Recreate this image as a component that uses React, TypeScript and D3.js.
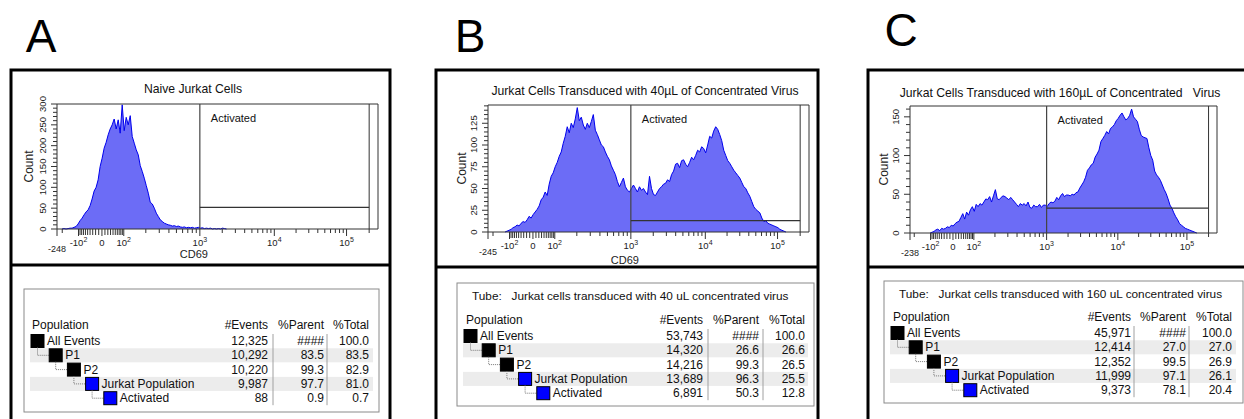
import React from 'react';
import * as d3 from 'd3';

// ---------- DATA ----------
const CHANNELS = 160;
const AXIS_MAX = 262144;

const firstChannelA = 3;
const countsA = [
  1, 0, 1, 2, 2, 4, 6, 12, 20, 26,
  34, 41, 46, 56, 72, 91, 100, 118, 150, 170,
  194, 208, 226, 240, 250, 264, 240, 262, 230, 298,
  236, 268, 250, 272, 222, 206, 190, 178, 152, 138,
  122, 104, 86, 64, 60, 50, 38, 30, 22, 18,
  14, 12, 10, 9, 7, 8, 6, 7, 5, 4,
  5, 3, 4, 3, 4, 2, 3, 4, 2, 3,
  1, 2, 1, 2, 0, 1, 0, 1, 0, 2,
  1,
];

const firstChannelB = 9;
const countsB = [
  1, 2, 3, 5, 6, 8, 7, 10, 12, 11,
  14, 18, 16, 20, 23, 26, 30, 37, 40, 46,
  42, 55, 64, 68, 75, 80, 87, 92, 102, 110,
  121, 114, 125, 120, 130, 143, 128, 132, 123, 118,
  125, 120, 127, 135, 117, 112, 106, 100, 98, 92,
  87, 83, 76, 71, 66, 58, 52, 57, 62, 52,
  48, 46, 50, 54, 50, 46, 52, 48, 50, 46,
  43, 64, 50, 43, 42, 46, 50, 52, 55, 56,
  60, 58, 66, 70, 78, 79, 74, 82, 83, 78,
  75, 80, 86, 83, 88, 94, 92, 98, 96, 91,
  100, 110, 108, 116, 121, 118, 112, 105, 94, 88,
  82, 79, 75, 71, 68, 65, 62, 57, 52, 50,
  45, 41, 35, 29, 26, 24, 22, 16, 12, 13,
  10, 9, 8, 7, 6, 5, 3, 2, 1,
];

const firstChannelC = 11;
const countsC = [
  1, 2, 4, 5, 3, 6, 5, 6, 8, 7,
  10, 9, 12, 14, 15, 20, 25, 18, 27, 23,
  30, 34, 28, 37, 34, 38, 36, 40, 44, 43,
  47, 40, 48, 56, 44, 43, 46, 48, 47, 45,
  43, 46, 43, 40, 37, 34, 38, 36, 38, 35,
  40, 33, 32, 36, 34, 34, 37, 33, 36, 36,
  34, 38, 40, 39, 41, 46, 43, 48, 51, 47,
  49, 49, 48, 50, 49, 52, 53, 58, 62, 66,
  72, 81, 84, 88, 90, 98, 102, 107, 118, 122,
  126, 131, 128, 135, 137, 140, 145, 148, 152, 155,
  150, 146, 148, 152, 160, 150, 147, 144, 134, 126,
  124, 123, 122, 110, 100, 94, 80, 75, 72, 68,
  62, 56, 51, 44, 36, 32, 26, 21, 17, 12,
  10, 8, 6, 5, 4, 3, 2, 1,
];

const titles = [
  'Naive Jurkat Cells',
  'Jurkat Cells Transduced with 40\u00B5L of Concentrated Virus',
  'Jurkat Cells Transduced with 160\u00B5L of Concentrated   Virus',
];
const panelLetters = ['A', 'B', 'C'];
const axisMins = [-248, -245, -238];
const yMaxes = [300, 146, 164];
const yMajorStep = [50, 25, 50];
const yMinorStep = [10, 5, 10];
const gateLow = 1000;
const gateHigh = 200000;
const gateHeights = [52, 13, 32];

const xMajorTicks = [-100, 0, 100, 1000, 10000, 100000];
const xMajorBase = ['-10', '0', '10', '10', '10', '10'];
const xMajorExp = ['2', '', '2', '3', '4', '5'];
const xCombTicks = [-90, -80, -70, -60, -50, -40, -30, -20, -10, 10, 20, 30, 40, 50, 60, 70, 80, 90];
const xMinorTicks = [
  -200, 200, 300, 400, 500, 600, 700, 800, 900,
  2000, 3000, 4000, 5000, 6000, 7000, 8000, 9000,
  20000, 30000, 40000, 50000, 60000, 70000, 80000, 90000, 200000,
];

const populations = ['All Events', 'P1', 'P2', 'Jurkat Population', 'Activated'];
const popLevels = [0, 1, 2, 3, 4];
const popColors = ['#000000', '#000000', '#000000', '#0000ff', '#0000ff'];
const eventsA = [12325, 10292, 10220, 9987, 88];
const parentA = [null, 83.5, 99.3, 97.7, 0.9];
const totalA = [100.0, 83.5, 82.9, 81.0, 0.7];
const eventsB = [53743, 14320, 14216, 13689, 6891];
const parentB = [null, 26.6, 99.3, 96.3, 50.3];
const totalB = [100.0, 26.6, 26.5, 25.5, 12.8];
const eventsC = [45971, 12414, 12352, 11999, 9373];
const parentC = [null, 27.0, 99.5, 97.1, 78.1];
const totalC = [100.0, 27.0, 26.9, 26.1, 20.4];
const tubeTexts = [
  '',
  'Tube:   Jurkat cells transduced with 40 uL concentrated virus',
  'Tube:   Jurkat cells transduced with 160 uL concentrated virus',
];

// ---------- LAYOUT ----------
const FONT = '"Liberation Sans", Arial, sans-serif';

const panels = [
  { frameX: 11, frameR: 390, divY: 265, letterX: 41, letterY: 52,
    left: 57, right: 378, top: 104, bottom: 229, titleX: 193, titleY: 93,
    cd69Y: 258, countX: 33, showCD69: true,
    counts: countsA, first: firstChannelA },
  { frameX: 436, frameR: 818, divY: 267, letterX: 470, letterY: 52,
    left: 488, right: 809, top: 105, bottom: 232, titleX: 645, titleY: 95,
    cd69Y: 264, countX: 466, showCD69: true,
    counts: countsB, first: firstChannelB },
  { frameX: 868, frameR: 1260, divY: 267, letterX: 901, letterY: 46,
    left: 910, right: 1217, top: 106, bottom: 233, titleX: 1060, titleY: 97,
    cd69Y: 0, countX: 888, showCD69: false,
    counts: countsC, first: firstChannelC },
];

const tables = [
  { x: 24, y: 289, r: 379, b: 412, headerY: 325, popX: 32, sqX: 31,
    colR: [268, 324, 369], seps: [273, 327], rowL: 30, rowR: 373,
    events: eventsA, parent: parentA, total: totalA },
  { x: 457, y: 283, r: 814, b: 406, headerY: 320, popX: 466, sqX: 464,
    colR: [703, 759, 805], seps: [708, 763], rowL: 463, rowR: 808,
    events: eventsB, parent: parentB, total: totalB },
  { x: 884, y: 281, r: 1243, b: 403, headerY: 317, popX: 893, sqX: 891,
    colR: [1131, 1186, 1232], seps: [1134, 1189], rowL: 890, rowR: 1236,
    events: eventsC, parent: parentC, total: totalC },
];

const anchorFractions = [0, 0.067, 0.14, 0.208, 0.445, 0.677, 0.902, 1];
const T = (v: number) => Math.asinh(v / 50);

function HistPanel({ p, i }: { p: any; i: number }) {
  const { left, right, top, bottom } = p;
  const anchorValues = [axisMins[i], -100, 0, 100, 1000, 10000, 100000, AXIS_MAX];
  const tScale = d3.scaleLinear()
    .domain(anchorValues.map(T))
    .range(anchorFractions.map((f) => left + f * (right - left)));
  const xv = (v: number) => tScale(T(v));
  const ch = d3.scaleLinear().domain([0, CHANNELS]).range([left, right]);
  const y = d3.scaleLinear().domain([0, yMaxes[i]]).range([bottom, top]);

  const pts: [number, number][] = [];
  pts.push([ch(p.first - 0.5), y(0)]);
  p.counts.forEach((c: number, k: number) => pts.push([ch(p.first + k + 0.5), y(c)]));
  pts.push([ch(p.first + p.counts.length + 0.5), y(0)]);
  const area = d3.area<[number, number]>().x((d) => d[0]).y0(bottom).y1((d) => d[1])(pts) || '';
  const line = d3.line<[number, number]>().x((d) => d[0]).y((d) => d[1])(pts) || '';

  const yMaj = d3.range(0, yMaxes[i] + 0.1, yMajorStep[i]);
  const yMin = d3.range(0, yMaxes[i] + 0.1, yMinorStep[i]).filter((v) => v % yMajorStep[i] !== 0);

  const gx1 = xv(gateLow);
  const gx2 = xv(gateHigh);
  const gy = y(gateHeights[i]);

  return (
    <g fontFamily={FONT}>
      <text x={p.letterX} y={p.letterY} fontSize={46} textAnchor="middle" fill="#000">{panelLetters[i]}</text>
      <rect x={p.frameX} y={70} width={p.frameR - p.frameX} height={400} fill="none" stroke="#000" strokeWidth={3} />
      <line x1={p.frameX} x2={p.frameR} y1={p.divY} y2={p.divY} stroke="#000" strokeWidth={3} />
      <text x={p.titleX} y={p.titleY} fontSize={12.2} textAnchor="middle" fill="#111" style={{ whiteSpace: 'pre' }}>{titles[i]}</text>

      <path d={area} fill="#6c6cf6" />
      <path d={line} fill="none" stroke="#0000ee" strokeWidth={1} />

      {/* frame */}
      <line x1={left} x2={right} y1={top} y2={top} stroke="#333" strokeWidth={1} />
      <line x1={right} x2={right} y1={top} y2={bottom} stroke="#333" strokeWidth={1} />
      <line x1={left} x2={left} y1={top} y2={bottom} stroke="#333" strokeWidth={1} />
      <line x1={left} x2={right} y1={bottom} y2={bottom} stroke="#333" strokeWidth={1} />

      {/* gate */}
      <line x1={gx1} x2={gx1} y1={top} y2={bottom} stroke="#444" strokeWidth={1.2} />
      <line x1={gx2} x2={gx2} y1={top} y2={bottom} stroke="#333" strokeWidth={1} />
      <line x1={gx1} x2={gx2} y1={gy} y2={gy} stroke="#333" strokeWidth={1.2} />
      <text x={gx1 + 11} y={top + 18} fontSize={11} fill="#111">Activated</text>

      {/* y axis */}
      {yMaj.map((v) => (
        <g key={'ym' + v}>
          <line x1={left - 6} x2={left} y1={y(v)} y2={y(v)} stroke="#333" />
          <text transform={`translate(${left - 11},${y(v)}) rotate(-90)`} fontSize={9.5} textAnchor="middle" fill="#222">{v}</text>
        </g>
      ))}
      {yMin.map((v) => (
        <line key={'yn' + v} x1={left - 4} x2={left} y1={y(v)} y2={y(v)} stroke="#333" />
      ))}
      <text transform={`translate(${p.countX},${(top + bottom) / 2}) rotate(-90)`} fontSize={12} textAnchor="middle" fill="#222">Count</text>

      {/* x axis */}
      <line x1={xv(axisMins[i])} x2={xv(axisMins[i])} y1={bottom} y2={bottom + 7} stroke="#333" />
      {xMajorTicks.map((v) => (
        <line key={'xm' + v} x1={xv(v)} x2={xv(v)} y1={bottom} y2={bottom + 7} stroke="#333" />
      ))}
      {xCombTicks.map((v) => (
        <line key={'xc' + v} x1={xv(v)} x2={xv(v)} y1={bottom} y2={bottom + 6} stroke="#333" />
      ))}
      {xMinorTicks.map((v) => (
        <line key={'xn' + v} x1={xv(v)} x2={xv(v)} y1={bottom} y2={bottom + 4} stroke="#333" />
      ))}
      {xMajorTicks.map((v, k) => (
        <text key={'xl' + v} x={xv(v)} y={bottom + 17} fontSize={9.5} textAnchor="middle" fill="#222">
          {xMajorBase[k]}
          {xMajorExp[k] ? <tspan fontSize={7} dy={-4}>{xMajorExp[k]}</tspan> : null}
        </text>
      ))}
      <text x={xv(axisMins[i])} y={bottom + 23} fontSize={9} textAnchor="middle" fill="#222">{axisMins[i]}</text>
      {p.showCD69 ? (
        <text x={xv(1000) - 6} y={p.cd69Y} fontSize={11} textAnchor="middle" fill="#222">CD69</text>
      ) : null}
    </g>
  );
}

function StatsTable({ t, i }: { t: any; i: number }) {
  const fmtN = d3.format(',');
  const fmtP = d3.format('.1f');
  const rowY = (k: number) => t.headerY + 16 + k * 14.3;
  const sq = 13;
  const indent = 18.2;
  const sqLeft = (k: number) => t.sqX + popLevels[k] * indent;
  return (
    <g fontFamily={FONT} fontSize={12} fill="#111">
      <rect x={t.x} y={t.y} width={t.r - t.x} height={t.b - t.y} fill="#fff" stroke="#8a8a8a" strokeWidth={1} />
      {tubeTexts[i] ? (
        <text x={t.popX + 6} y={t.y + 17} fontSize={11.8} style={{ whiteSpace: 'pre' }}>{tubeTexts[i]}</text>
      ) : null}
      {populations.map((_, k) => (k % 2 === 1 ? (
        <rect key={'bg' + k} x={t.rowL} y={rowY(k) - 7} width={t.rowR - t.rowL} height={14} fill="#ececec" />
      ) : null))}
      <text x={t.popX} y={t.headerY + 4}>Population</text>
      <text x={t.colR[0]} y={t.headerY + 4} textAnchor="end">#Events</text>
      <text x={t.colR[1]} y={t.headerY + 4} textAnchor="end">%Parent</text>
      <text x={t.colR[2]} y={t.headerY + 4} textAnchor="end">%Total</text>
      {t.seps.map((sx: number) => (
        <line key={'s' + sx} x1={sx} x2={sx} y1={rowY(0) - 7} y2={rowY(4) + 7} stroke="#a0a0a0" />
      ))}
      {populations.map((name, k) => (
        <g key={name}>
          {k > 0 ? (
            <path
              d={`M${sqLeft(k - 1) + sq / 2},${rowY(k - 1) + sq / 2} V${rowY(k)} H${sqLeft(k)}`}
              fill="none" stroke="#777" strokeWidth={1} strokeDasharray="1,1"
            />
          ) : null}
          <rect x={sqLeft(k)} y={rowY(k) - sq / 2} width={sq} height={sq} fill={popColors[k]} stroke="#000" strokeWidth={1} />
          <text x={sqLeft(k) + sq + 3} y={rowY(k) + 4}>{name}</text>
          <text x={t.colR[0]} y={rowY(k) + 4} textAnchor="end">{fmtN(t.events[k])}</text>
          <text x={t.colR[1]} y={rowY(k) + 4} textAnchor="end">{t.parent[k] === null ? '####' : fmtP(t.parent[k])}</text>
          <text x={t.colR[2]} y={rowY(k) + 4} textAnchor="end">{fmtP(t.total[k])}</text>
        </g>
      ))}
    </g>
  );
}

export default function App() {
  return (
    <svg width={1244} height={419} style={{ position: 'absolute', left: 0, top: 0, background: '#fff' }}>
      <rect x={0} y={0} width={1244} height={419} fill="#fff" />
      {panels.map((p, i) => <HistPanel key={i} p={p} i={i} />)}
      {tables.map((t, i) => <StatsTable key={i} t={t} i={i} />)}
    </svg>
  );
}
